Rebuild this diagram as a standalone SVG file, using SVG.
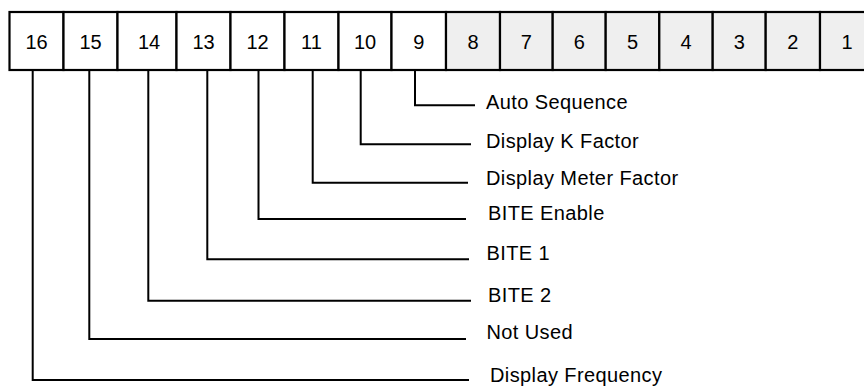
<svg xmlns="http://www.w3.org/2000/svg" width="864" height="386" viewBox="0 0 864 386">
<style>
.cell{stroke:#000;stroke-width:2.2;fill:#fff}
.g{fill:#efefef}
.num{font-family:"Liberation Sans",Arial,sans-serif;font-size:20px;text-anchor:middle;fill:#000}
.lbl{font-family:"Liberation Sans",Arial,sans-serif;font-size:20px;fill:#000;letter-spacing:0.4px}
.c{fill:none;stroke:#000;stroke-width:2}
</style>
<rect width="864" height="386" fill="#fff"/>
<g id="register">
<g id="b16"><rect class="cell" x="9.5" y="12" width="54" height="58"/><text class="num" x="36.5" y="49">16</text></g>
<g id="b15"><rect class="cell" x="63.5" y="12" width="54" height="58"/><text class="num" x="90.5" y="49">15</text></g>
<g id="b14"><rect class="cell" x="117.5" y="12" width="59" height="58"/><text class="num" x="149" y="49">14</text></g>
<g id="b13"><rect class="cell" x="176.5" y="12" width="54" height="58"/><text class="num" x="203.5" y="49">13</text></g>
<g id="b12"><rect class="cell" x="230.5" y="12" width="54" height="58"/><text class="num" x="257.5" y="49">12</text></g>
<g id="b11"><rect class="cell" x="284.5" y="12" width="54" height="58"/><text class="num" x="311.5" y="49">11</text></g>
<g id="b10"><rect class="cell" x="338.5" y="12" width="53" height="58"/><text class="num" x="365" y="49">10</text></g>
<g id="b9"><rect class="cell" x="391.5" y="12" width="54.5" height="58"/><text class="num" x="418.7" y="49">9</text></g>
<g id="b8"><rect class="cell g" x="446" y="12" width="54" height="58"/><text class="num" x="473" y="49">8</text></g>
<g id="b7"><rect class="cell g" x="500" y="12" width="52.7" height="58"/><text class="num" x="526.3" y="49">7</text></g>
<g id="b6"><rect class="cell g" x="552.7" y="12" width="53" height="58"/><text class="num" x="579.2" y="49">6</text></g>
<g id="b5"><rect class="cell g" x="605.7" y="12" width="53.6" height="58"/><text class="num" x="632.5" y="49">5</text></g>
<g id="b4"><rect class="cell g" x="659.3" y="12" width="53.4" height="58"/><text class="num" x="686" y="49">4</text></g>
<g id="b3"><rect class="cell g" x="712.7" y="12" width="53" height="58"/><text class="num" x="739.2" y="49">3</text></g>
<g id="b2"><rect class="cell g" x="765.7" y="12" width="54.3" height="58"/><text class="num" x="792.8" y="49">2</text></g>
<g id="b1"><rect class="cell g" x="820" y="12" width="54" height="58"/><text class="num" x="847" y="49">1</text></g>
</g>
<g id="connectors">
<path class="c" d="M415 70 V105.3 H475"/>
<path class="c" d="M360.7 70 V144.3 H471"/>
<path class="c" d="M312.7 70 V182.7 H468"/>
<path class="c" d="M258.5 70 V219 H466"/>
<path class="c" d="M207.3 70 V259.3 H469"/>
<path class="c" d="M148.3 70 V300.7 H471"/>
<path class="c" d="M89.3 70 V339 H466"/>
<path class="c" d="M32.7 70 V380 H469"/>
</g>
<g id="labels">
<text class="lbl" x="486" y="109">Auto Sequence</text>
<text class="lbl" x="486" y="147.5">Display K Factor</text>
<text class="lbl" x="486" y="185">Display Meter Factor</text>
<text class="lbl" x="488" y="220">BITE Enable</text>
<text class="lbl" x="486.5" y="260">BITE 1</text>
<text class="lbl" x="488" y="301.5">BITE 2</text>
<text class="lbl" x="486.5" y="338.5">Not Used</text>
<text class="lbl" x="490" y="381.5">Display Frequency</text>
</g>
</svg>
